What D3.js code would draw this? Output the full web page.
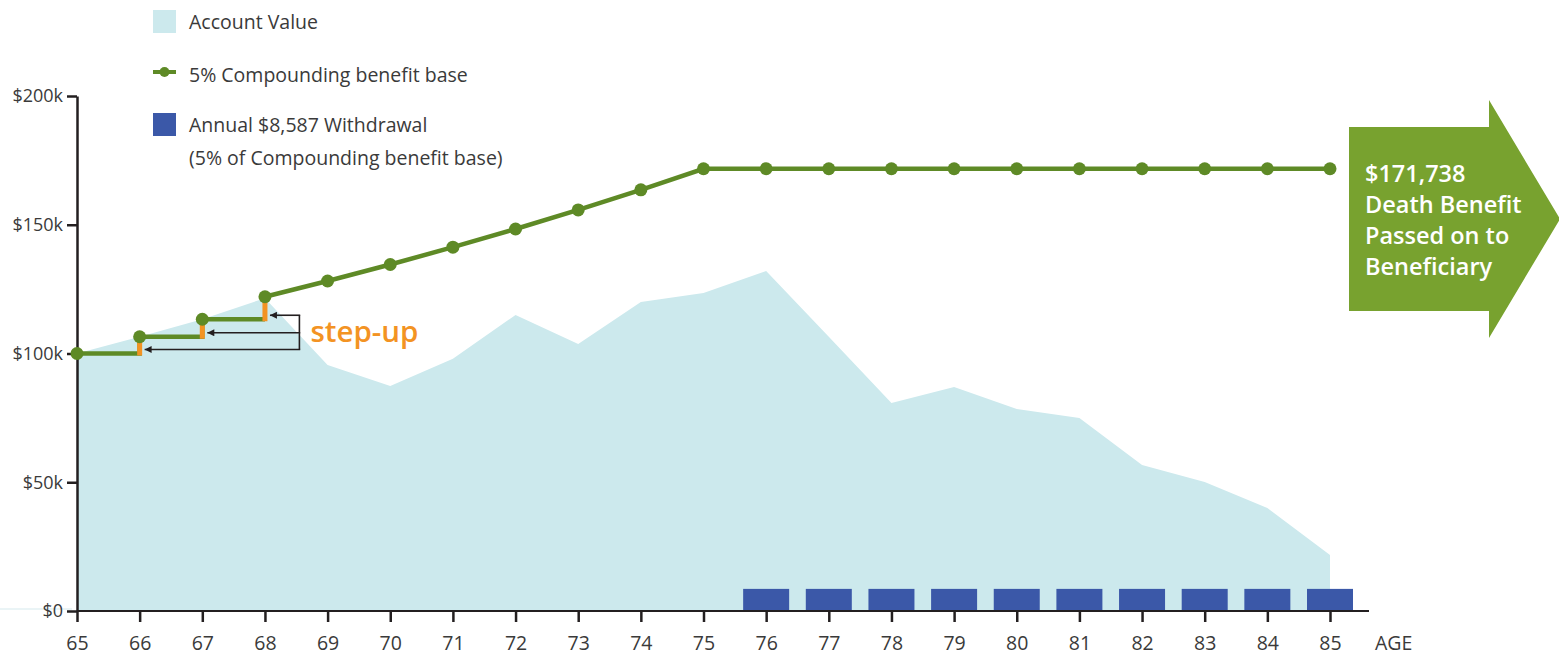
<!DOCTYPE html>
<html>
<head>
<meta charset="utf-8">
<script src="https://cdn.jsdelivr.net/npm/d3@7"></script>
<style>
  html, body { margin: 0; padding: 0; background: #fff; }
  svg { display: block; font-family: "Open Sans", "Noto Sans", sans-serif; }
</style>
</head>
<body>
<svg id="chart" width="1559" height="655"></svg>
<script>
// Ages along the horizontal axis
const ages = [65, 66, 67, 68, 69, 70, 71, 72, 73, 74, 75, 76, 77, 78, 79, 80, 81, 82, 83, 84, 85];

// Account value at each age, in $ thousands
const accountValue = [100, 106.5, 113.3, 121.5, 95.5, 87.4, 98, 115, 103.7, 120, 123.5,
                      132, 106.5, 80.8, 87, 78.4, 75, 56.7, 50.1, 40, 21.7];

// 5% compounding benefit base at each age, in $ thousands
const benefitBase = [100, 106.5, 113.3, 122.05, 128.15, 134.56, 141.29, 148.35, 155.77, 163.56, 171.738,
                     171.738, 171.738, 171.738, 171.738, 171.738, 171.738, 171.738, 171.738, 171.738, 171.738];

// Ages where the benefit base steps up to the account value
const stepUpAges = [66, 67, 68];

// Annual withdrawals, in $ thousands
const withdrawalAges = [76, 77, 78, 79, 80, 81, 82, 83, 84, 85];
const withdrawalValues = [8.587, 8.587, 8.587, 8.587, 8.587, 8.587, 8.587, 8.587, 8.587, 8.587];

// Vertical axis ticks
const yTicks = [0, 50, 100, 150, 200];
const yTickLabels = ["$0", "$50k", "$100k", "$150k", "$200k"];

const deathBenefitLines = ["$171,738", "Death Benefit", "Passed on to", "Beneficiary"];

const legendItems = ["Account Value", "5% Compounding benefit base", "Annual $8,587 Withdrawal", "(5% of Compounding benefit base)"];

const COLORS = {
  area: "#cce9ed",
  green: "#5e8a26",
  box: "#78a22f",
  bar: "#3b58a8",
  orange: "#f39323",
  axis: "#231f20",
  text: "#3a3a3a"
};

const svg = d3.select("#chart");

const x = d3.scaleLinear().domain([65, 85]).range([77, 1330]);
const y = d3.scaleLinear().domain([0, 200]).range([611, 96]);

// faint baseline trace at the far left
svg.append("line")
  .attr("x1", 0).attr("x2", 72).attr("y1", 609).attr("y2", 609)
  .attr("stroke", "#e3f1f3").attr("stroke-width", 1.5);

// Account value area
const area = d3.area()
  .x((d, i) => x(ages[i]))
  .y0(y(0))
  .y1(d => y(d));
svg.append("path")
  .datum(accountValue)
  .attr("d", area)
  .attr("fill", COLORS.area);

// Withdrawal bars
const barW = 46;
svg.append("g").selectAll("rect")
  .data(withdrawalValues)
  .join("rect")
  .attr("x", (d, i) => x(withdrawalAges[i]) - barW / 2)
  .attr("width", barW)
  .attr("y", d => y(d))
  .attr("height", d => y(0) - y(d))
  .attr("fill", COLORS.bar);

// Axes
const xAxis = d3.axisBottom(x).tickValues(ages).tickSize(11).tickSizeOuter(0).tickFormat(d3.format("d"));
const gx = svg.append("g").attr("transform", `translate(0,${y(0)})`).call(xAxis);
gx.select(".domain").remove();
gx.selectAll(".tick line").attr("stroke", COLORS.axis).attr("stroke-width", 2.5);
gx.selectAll(".tick text")
  .attr("y", 0).attr("dy", 0)
  .attr("transform", "translate(0,39)")
  .attr("fill", COLORS.text)
  .style("font-size", "19.5px")
  .style("font-family", "'Open Sans', sans-serif");
svg.append("line")
  .attr("x1", x(65)).attr("x2", 1369)
  .attr("y1", y(0)).attr("y2", y(0))
  .attr("stroke", COLORS.axis).attr("stroke-width", 2);
svg.append("text")
  .attr("x", 1375).attr("y", 650)
  .attr("fill", COLORS.text)
  .style("font-size", "19.5px")
  .text("AGE");

const yAxis = d3.axisLeft(y).tickValues(yTicks).tickSize(10).tickSizeOuter(0)
  .tickFormat((d, i) => yTickLabels[i]);
const gy = svg.append("g").attr("transform", `translate(${x(65)},0)`).call(yAxis);
gy.select(".domain").attr("stroke", COLORS.axis).attr("stroke-width", 2.5);
gy.selectAll(".tick line").attr("stroke", COLORS.axis).attr("stroke-width", 2.5);
gy.selectAll(".tick text")
  .attr("x", -14)
  .attr("fill", COLORS.text)
  .style("font-size", "18px")
  .style("font-family", "'Open Sans', sans-serif");

// Benefit base: stepped segments up to the last step-up, then straight line
const lastStep = ages.indexOf(stepUpAges[stepUpAges.length - 1]);
const stepPts = [];
for (let i = 0; i < lastStep; i++) {
  stepPts.push([x(ages[i]), y(benefitBase[i])]);
  stepPts.push([x(ages[i + 1]), y(benefitBase[i])]);
}
const line = d3.line();
svg.append("path")
  .attr("d", line(stepPts))
  .attr("fill", "none")
  .attr("stroke", COLORS.green)
  .attr("stroke-width", 4.5);

const restPts = ages.slice(lastStep).map((a, j) => [x(a), y(benefitBase[lastStep + j])]);
svg.append("path")
  .attr("d", line(restPts))
  .attr("fill", "none")
  .attr("stroke", COLORS.green)
  .attr("stroke-width", 4.5);

// Orange step-up rises
svg.append("g").selectAll("rect")
  .data(stepUpAges)
  .join("rect")
  .attr("x", a => x(a) - 2.5)
  .attr("width", 5)
  .attr("y", a => y(benefitBase[ages.indexOf(a)]))
  .attr("height", a => {
    const i = ages.indexOf(a);
    return y(benefitBase[i - 1]) - y(benefitBase[i]) + 2;
  })
  .attr("fill", COLORS.orange);

// Dots
svg.append("g").selectAll("circle")
  .data(benefitBase)
  .join("circle")
  .attr("cx", (d, i) => x(ages[i]))
  .attr("cy", d => y(d))
  .attr("r", 6.5)
  .attr("fill", COLORS.green);

// Step-up annotation arrows
const defs = svg.append("defs");
defs.append("marker")
  .attr("id", "arrowHead")
  .attr("viewBox", "0 0 10 10")
  .attr("refX", 10).attr("refY", 5)
  .attr("markerWidth", 9).attr("markerHeight", 7)
  .attr("markerUnits", "userSpaceOnUse")
  .attr("orient", "auto")
  .append("path").attr("d", "M0,0 L10,5 L0,10 Z").attr("fill", COLORS.axis);

const bracketX = x(68.55);
const arrowYs = stepUpAges.map(a => y(benefitBase[ages.indexOf(a) - 1]) - 4);
svg.append("line")
  .attr("x1", bracketX).attr("x2", bracketX)
  .attr("y1", d3.min(arrowYs)).attr("y2", d3.max(arrowYs))
  .attr("stroke", COLORS.axis).attr("stroke-width", 1.6);
svg.append("g").selectAll("line")
  .data(stepUpAges)
  .join("line")
  .attr("x1", bracketX + 0.8)
  .attr("x2", a => x(a) + 5)
  .attr("y1", (a, i) => arrowYs[i])
  .attr("y2", (a, i) => arrowYs[i])
  .attr("stroke", COLORS.axis)
  .attr("stroke-width", 1.6)
  .attr("marker-end", "url(#arrowHead)");

svg.append("text")
  .attr("x", x(68.55) + 11).attr("y", 342)
  .attr("fill", COLORS.orange)
  .style("font-size", "29.5px")
  .style("font-weight", 600)
  .text("step-up");

// Death benefit arrow
const arrowPath = d3.path();
arrowPath.moveTo(1349, 127);
arrowPath.lineTo(1489, 127);
arrowPath.lineTo(1489, 100);
arrowPath.lineTo(1560, 219);
arrowPath.lineTo(1489, 338);
arrowPath.lineTo(1489, 311);
arrowPath.lineTo(1349, 311);
arrowPath.closePath();
svg.append("path").attr("d", arrowPath.toString()).attr("fill", COLORS.box);

svg.append("g").selectAll("text")
  .data(deathBenefitLines)
  .join("text")
  .attr("x", 1365)
  .attr("y", (d, i) => 182 + i * 31)
  .attr("fill", "#fff")
  .style("font-size", "23.5px")
  .style("font-weight", 600)
  .text(d => d);

// Legend
const legend = svg.append("g");
legend.append("rect").attr("x", 153).attr("y", 10).attr("width", 23).attr("height", 23).attr("fill", COLORS.area);
legend.append("line").attr("x1", 153).attr("x2", 176).attr("y1", 72).attr("y2", 72)
  .attr("stroke", COLORS.green).attr("stroke-width", 4);
legend.append("circle").attr("cx", 164.5).attr("cy", 72).attr("r", 5).attr("fill", COLORS.green);
legend.append("rect").attr("x", 153).attr("y", 113).attr("width", 23).attr("height", 23).attr("fill", COLORS.bar);

const legendY = [29, 82, 132, 165];
legend.selectAll("text")
  .data(legendItems)
  .join("text")
  .attr("x", 189)
  .attr("y", (d, i) => legendY[i])
  .attr("fill", COLORS.text)
  .style("font-size", "19.5px")
  .text(d => d);
</script>
</body>
</html>
